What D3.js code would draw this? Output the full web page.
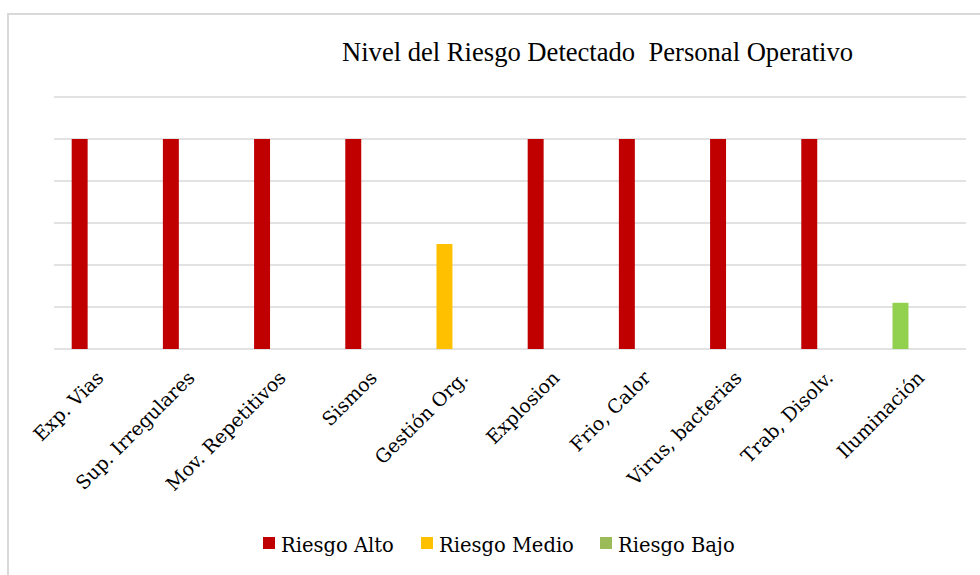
<!DOCTYPE html>
<html>
<head>
<meta charset="utf-8">
<script src="https://cdn.jsdelivr.net/npm/d3@7"></script>
<style>
  body { margin: 0; background: #fff; }
  svg { display: block; }
  .title { font-family: "Liberation Serif", "Times New Roman", serif; }
</style>
</head>
<body>
<div id="chart"></div>
<script>
const categories = ['Exp. Vias', 'Sup. Irregulares', 'Mov. Repetitivos', 'Sismos', 'Gestión Org.', 'Explosion', 'Frio, Calor', 'Virus, bacterias', 'Trab, Disolv.', 'Iluminación'];
const riskLevel = ['Riesgo Alto', 'Riesgo Alto', 'Riesgo Alto', 'Riesgo Alto', 'Riesgo Medio', 'Riesgo Alto', 'Riesgo Alto', 'Riesgo Alto', 'Riesgo Alto', 'Riesgo Bajo'];
const values = [5, 5, 5, 5, 2.5, 5, 5, 5, 5, 1.1];
const seriesNames = ['Riesgo Alto', 'Riesgo Medio', 'Riesgo Bajo'];
const barColors = ['#C00000', '#FFC000', '#92D050'];
const legendColors = ['#C00000', '#FFC000', '#9BBB59'];
const yTicks = [0, 1, 2, 3, 4, 5, 6];

const width = 980, height = 575;
const margin = { left: 54, right: 14, top: 97, bottom: 226 };
const serifLabel = "'DejaVu Serif', serif";

const svg = d3.select('#chart').append('svg')
    .attr('width', width)
    .attr('height', height);

// chart frame
svg.append('rect')
    .attr('x', 8).attr('y', 14)
    .attr('width', 990).attr('height', 600)
    .attr('fill', 'none')
    .attr('stroke', '#d9d9d9')
    .attr('stroke-width', 2);

const x0 = margin.left, x1 = width - margin.right;
const yBase = height - margin.bottom;

// category slots (labels, gridlines)
const xCat = d3.scaleBand().domain(categories).range([x0, x1]);

// bars sit left of the slot center, like the original clustered layout
const xBar = d3.scaleBand().domain(categories).range([x0, x1])
    .paddingInner(0.825).paddingOuter(0.4125).align(0.235);

const y = d3.scaleLinear().domain([0, 6]).range([yBase, margin.top]);
const colorOf = d3.scaleOrdinal().domain(seriesNames).range(barColors);

// gridlines
svg.append('g')
    .selectAll('line')
    .data(yTicks)
    .enter()
    .append('line')
    .attr('x1', x0).attr('x2', x1)
    .attr('y1', d => y(d)).attr('y2', d => y(d))
    .attr('stroke', '#d9d9d9')
    .attr('stroke-width', 1.3);

// bars
svg.append('g')
    .selectAll('rect')
    .data(categories)
    .enter()
    .append('rect')
    .attr('x', d => xBar(d))
    .attr('width', xBar.bandwidth())
    .attr('y', (d, i) => y(values[i]))
    .attr('height', (d, i) => y(0) - y(values[i]))
    .attr('fill', (d, i) => colorOf(riskLevel[i]));

// category labels
const xAxis = svg.append('g')
    .attr('transform', `translate(0,${yBase})`)
    .call(d3.axisBottom(xCat).tickSize(0).tickPadding(0));
xAxis.select('.domain').remove();
xAxis.selectAll('text')
    .attr('font-family', serifLabel)
    .attr('font-size', 19)
    .attr('fill', '#000')
    .attr('text-anchor', 'end')
    .attr('dy', 0)
    .attr('transform', 'translate(5,30) rotate(-45)');

// title
svg.append('text')
    .attr('class', 'title')
    .attr('x', 342).attr('y', 61)
    .attr('font-size', 26.5)
    .attr('fill', '#000')
    .attr('textLength', 511)
    .attr('lengthAdjust', 'spacingAndGlyphs')
    .style('white-space', 'pre')
    .text('Nivel del Riesgo Detectado  Personal Operativo');

// legend
const legendX = [263, 421, 600];
const legend = svg.append('g')
    .selectAll('g')
    .data(seriesNames)
    .enter()
    .append('g')
    .attr('transform', (d, i) => `translate(${legendX[i]},537)`);

legend.append('rect')
    .attr('width', 12).attr('height', 12)
    .attr('fill', (d, i) => legendColors[i]);

legend.append('text')
    .attr('x', 18).attr('y', 15)
    .attr('font-family', serifLabel)
    .attr('font-size', 19.5)
    .attr('fill', '#000')
    .text(d => d);
</script>
</body>
</html>
